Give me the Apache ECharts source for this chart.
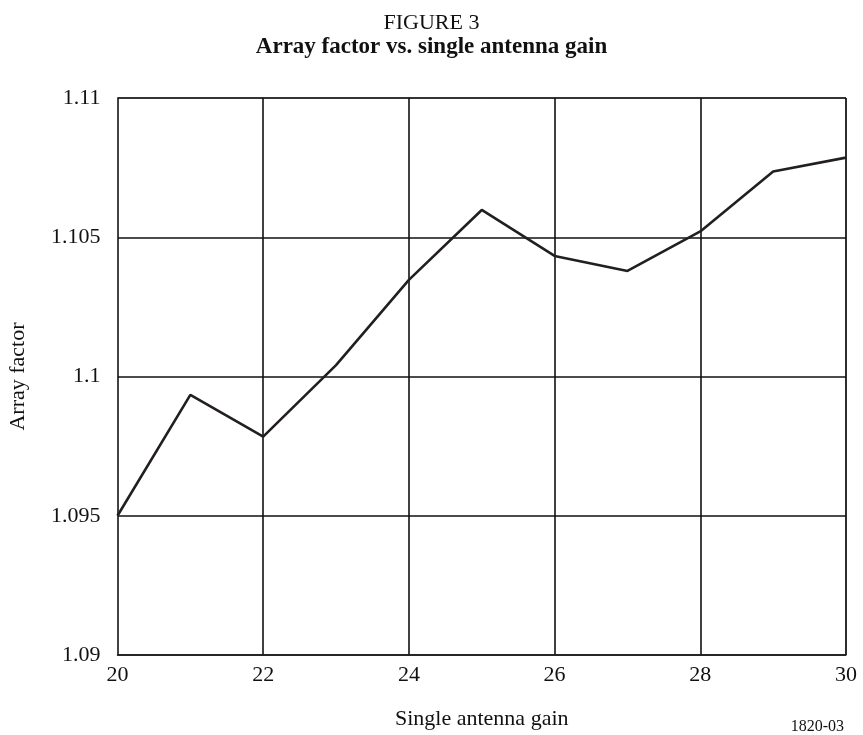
<!DOCTYPE html>
<html>
<head>
<meta charset="utf-8">
<script src="https://cdn.jsdelivr.net/npm/echarts@6/dist/echarts.min.js"></script>
<style>
  html, body { margin: 0; padding: 0; background: #fff; }
  #chart { width: 863px; height: 735px; }
</style>
</head>
<body>
<div id="chart"></div>
<script>
// Single antenna gain (x) and resulting array factor (y)
const gain = [20, 21, 22, 23, 24, 25, 26, 27, 28, 29, 30];
const arrayFactor = [1.0950, 1.09934, 1.09784, 1.10041, 1.10347, 1.10598, 1.10433, 1.10379, 1.10521, 1.10736, 1.10786];
const xTicks = [20, 22, 24, 26, 28, 30];
const yTicks = [1.09, 1.095, 1.1, 1.105, 1.11];

const serif = '"Liberation Serif", "DejaVu Serif", serif';
const chart = echarts.init(document.getElementById('chart'), null, { renderer: 'canvas' });

chart.setOption({
  animation: false,
  backgroundColor: '#ffffff',
  title: [
    { text: 'FIGURE 3', left: 'center', top: 7,
      textStyle: { fontFamily: serif, fontSize: 22, fontWeight: 'normal', color: '#111' } },
    { text: 'Array factor vs. single antenna gain', left: 'center', top: 31,
      textStyle: { fontFamily: serif, fontSize: 23, fontWeight: 'bold', color: '#111' } },
    { text: '1820-03', right: 14, top: 714,
      textStyle: { fontFamily: serif, fontSize: 16, fontWeight: 'normal', color: '#111' } }
  ],
  grid: { left: 117.5, right: 17, top: 98, bottom: 80, outerBoundsMode: 'none',
    show: true, borderColor: '#444', borderWidth: 1 },
  xAxis: {
    type: 'value', min: xTicks[0], max: xTicks[xTicks.length - 1], interval: xTicks[1] - xTicks[0],
    name: 'Single antenna gain', nameLocation: 'middle', nameGap: 53,
    nameTextStyle: { fontFamily: serif, fontSize: 22, color: '#111' },
    axisLine: { show: true, lineStyle: { color: '#222', width: 1.5 } },
    axisTick: { show: false },
    splitLine: { show: true, lineStyle: { color: '#111', width: 1.6 } },
    axisLabel: { fontFamily: serif, fontSize: 22, color: '#111', margin: 9 }
  },
  yAxis: {
    type: 'value', min: yTicks[0], max: yTicks[yTicks.length - 1], interval: 0.005,
    name: 'Array factor', nameLocation: 'middle', nameGap: 88, nameRotate: 90,
    nameTextStyle: { fontFamily: serif, fontSize: 22, color: '#111' },
    axisLine: { show: true, lineStyle: { color: '#444', width: 1 } },
    axisTick: { show: false },
    splitLine: { show: true, lineStyle: { color: '#111', width: 1.6 } },
    axisLabel: { fontFamily: serif, fontSize: 22, color: '#111', margin: 17,
      formatter: v => String(parseFloat(v.toFixed(4))) }
  },
  series: [{
    type: 'line',
    data: gain.map((g, i) => [g, arrayFactor[i]]),
    showSymbol: false,
    lineStyle: { color: '#231f20', width: 2.6 },
    z: 5
  }]
});
</script>
</body>
</html>
